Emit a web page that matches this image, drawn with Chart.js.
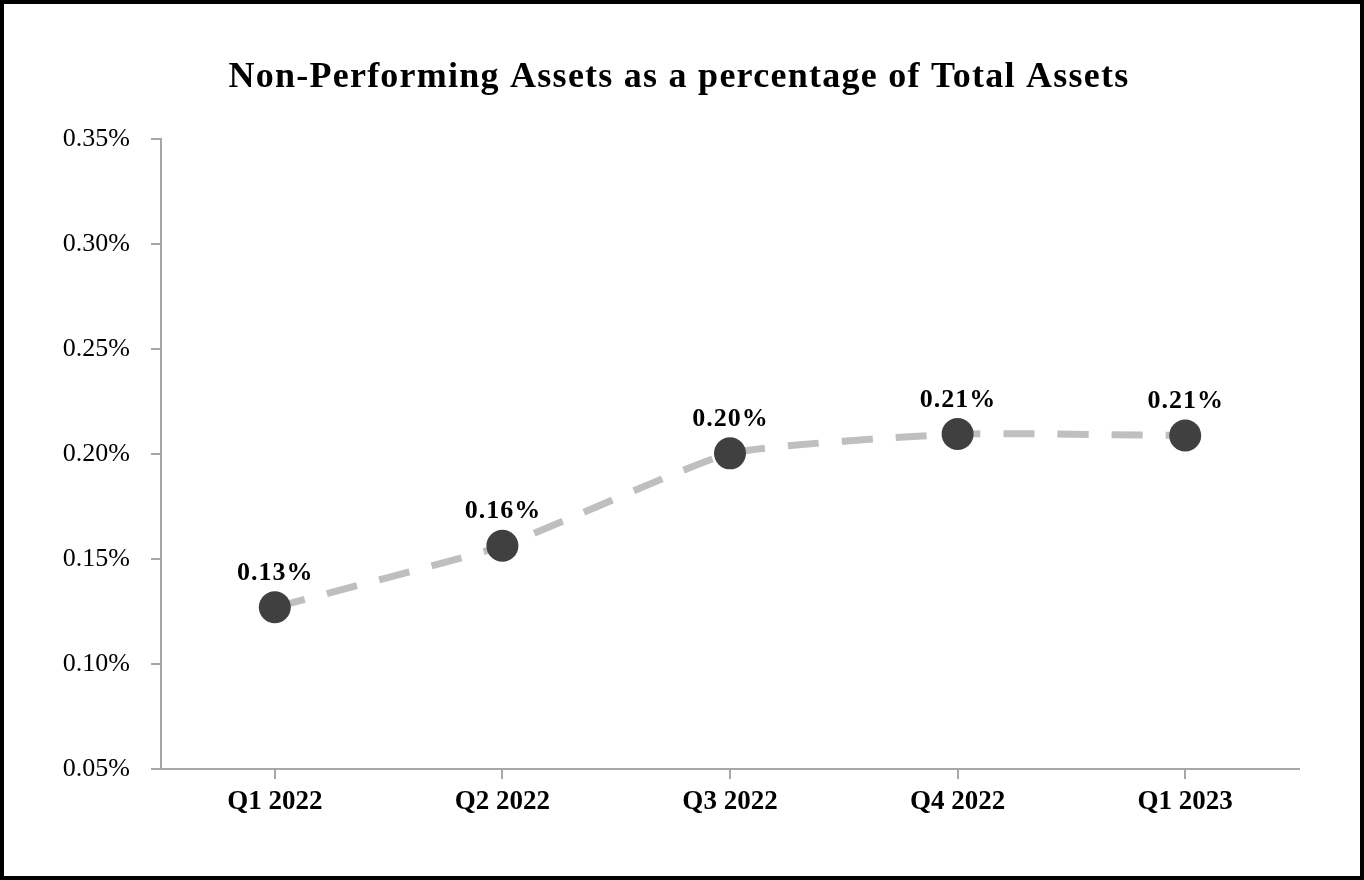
<!DOCTYPE html>
<html>
<head>
<meta charset="utf-8">
<script src="https://cdn.jsdelivr.net/npm/chart.js@4/dist/chart.umd.min.js"></script>
<style>
  html, body { margin: 0; padding: 0; background: #ffffff; }
  #wrap { position: absolute; left: 0; top: 0; width: 1364px; height: 880px; }
</style>
</head>
<body>
<div id="wrap"><canvas id="chart"></canvas></div>
<script>
  // Data
  const quarters = ['Q1 2022', 'Q2 2022', 'Q3 2022', 'Q4 2022', 'Q1 2023'];
  const npaPercent = [0.127, 0.1563, 0.2003, 0.2095, 0.2088];
  const yTicks = [0.05, 0.10, 0.15, 0.20, 0.25, 0.30, 0.35];

  const titleText = 'Non-Performing Assets as a percentage of Total Assets';
  const serif = "'Liberation Serif', 'Times New Roman', serif";
  const axisGray = '#a6a6a6';

  // Title, value labels and outer frame
  const decorPlugin = {
    id: 'decor',
    afterDatasetsDraw(chart) {
      const ctx = chart.ctx;
      const meta = chart.getDatasetMeta(0);
      ctx.save();
      ctx.fillStyle = '#000000';
      ctx.font = 'bold 26px ' + serif;
      ctx.letterSpacing = '1px';
      ctx.textAlign = 'center';
      ctx.textBaseline = 'middle';
      meta.data.forEach((pt, i) => {
        ctx.fillText(npaPercent[i].toFixed(2) + '%', pt.x + 0.5, pt.y - 34);
      });
      ctx.restore();
    },
    afterDraw(chart) {
      const ctx = chart.ctx;
      ctx.save();
      ctx.fillStyle = '#000000';
      ctx.font = 'bold 36px ' + serif;
      ctx.letterSpacing = '1.25px';
      ctx.textAlign = 'center';
      ctx.textBaseline = 'alphabetic';
      ctx.fillText(titleText, 679, 87);
      ctx.strokeStyle = '#000000';
      ctx.lineWidth = 4;
      ctx.strokeRect(2, 2, chart.width - 4, chart.height - 4);
      ctx.restore();
    }
  };

  new Chart(document.getElementById('chart'), {
    type: 'line',
    data: {
      labels: quarters,
      datasets: [{
        data: npaPercent,
        borderColor: '#bfbfbf',
        borderWidth: 7,
        borderDash: [31, 23],
        tension: 0.15,
        fill: false,
        pointRadius: 16,
        pointHoverRadius: 16,
        pointBackgroundColor: '#404040',
        pointBorderWidth: 0
      }]
    },
    options: {
      responsive: true,
      maintainAspectRatio: false,
      animation: false,
      devicePixelRatio: 1,
      layout: { padding: { top: 139, right: 65, left: 0, bottom: 0 } },
      plugins: {
        legend: { display: false },
        title: { display: false },
        tooltip: { enabled: false }
      },
      scales: {
        x: {
          offset: true,
          grid: {
            offset: false,
            drawOnChartArea: false,
            drawTicks: true,
            tickLength: 10,
            color: axisGray,
            lineWidth: 2
          },
          border: { color: axisGray, width: 2 },
          ticks: {
            color: '#000000',
            font: { family: serif, size: 27, weight: 'bold' },
            padding: 7,
            maxRotation: 0
          },
          afterFit(axis) { axis.height = 111; }
        },
        y: {
          min: 0.05,
          max: 0.35,
          afterBuildTicks(axis) {
            axis.ticks = yTicks.map(v => ({ value: v }));
          },
          grid: {
            drawOnChartArea: false,
            drawTicks: true,
            tickLength: 10,
            color: axisGray,
            lineWidth: 2
          },
          border: { color: axisGray, width: 2 },
          ticks: {
            color: '#000000',
            font: { family: serif, size: 26 },
            padding: 21,
            callback: v => Number(v).toFixed(2) + '%'
          },
          afterFit(axis) { axis.width = 161; }
        }
      }
    },
    plugins: [decorPlugin]
  });
</script>
</body>
</html>
